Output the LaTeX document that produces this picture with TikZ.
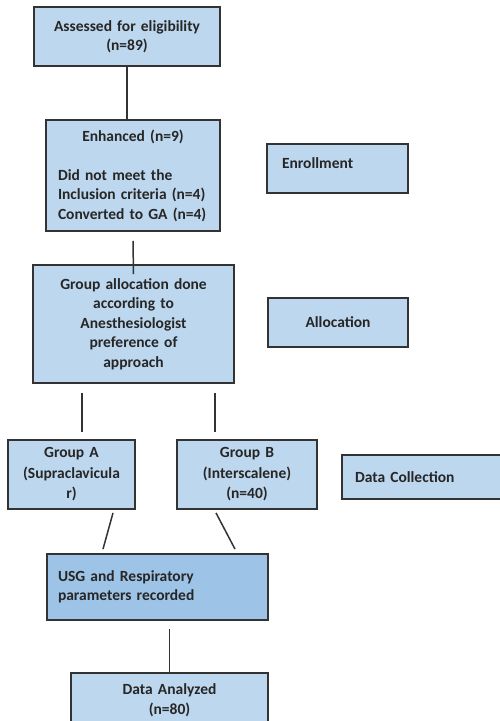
\documentclass[tikz,border=0pt]{standalone}
\usepackage{fontspec}
\setmainfont{Carlito}
\definecolor{boxblue}{HTML}{BDD7EE}
\definecolor{darkboxblue}{HTML}{9DC3E6}
\definecolor{edgegray}{HTML}{333333}
\tikzset {
  % flow chart boxes
  plainbox/.style = {draw=edgegray, line width=1.8pt, fill=boxblue, text=black!85,
    font=\bfseries\fontsize{15.5}{19.5}\selectfont, inner sep=0pt},
  box/.style = {plainbox, align=center},
  % boxes with text set from the left
  leftbox/.style = {plainbox, align=left},
  % plain connecting lines
  link/.style = {edgegray, line width=1.5pt},
}

\begin{document}
\begin{tikzpicture}[x=1pt, y=-1pt]
        \useasboundingbox (0,0) rectangle (499,721);

        \node[box, minimum width=186, minimum height=59, text width=170] (assess) at (127,36.5)
          {Assessed for eligibility\\(n=89)};
        \node[plainbox, minimum height=111, text width=150, inner xsep=12pt] (enh) at (133,175.5)
          {\centering Enhanced (n=9)\par\vspace{19.5pt}\raggedright Did not meet the\\Inclusion criteria (n=4)\\Converted to GA (n=4)\par};
        \node[leftbox, minimum height=49, text width=111, inner xsep=15pt, text height=11pt, text depth=12pt] (enrol) at (337.5,168.5)
          {Enrollment};
        \node[box, minimum width=201, minimum height=118, text width=185] (alloc) at (133.5,324)
          {Group allocation done\\according to\\Anesthesiologist\\preference of\\approach};
        \node[box, minimum width=140, minimum height=49, text width=130] (allocation) at (338,322.5)
          {Allocation};
        \node[box, minimum width=127, minimum height=69, text width=120,
          font=\bfseries\fontsize{15.5}{20.5}\selectfont] (grpA) at (71.5,474.5)
          {Group A\\(Supraclavicula\\r)};
        \node[box, minimum width=140, minimum height=69, text width=130,
          font=\bfseries\fontsize{15.5}{20.5}\selectfont] (grpB) at (247,474.5)
          {Group B\\(Interscalene)\\(n=40)};
        \node[leftbox, minimum height=44, text width=144, inner xsep=13pt] (dcoll) at (427,477)
          {Data Collection};
        \node[leftbox, fill=darkboxblue, minimum height=66, text width=199, inner xsep=11pt] (usg) at (157.5,587)
          {USG and Respiratory\\parameters recorded};
        \node[box, minimum width=197, minimum height=54, text width=180] (anal) at (169.5,700)
          {Data Analyzed\\(n=80)};

        \coordinate (splitA) at (82,393);
        \coordinate (splitB) at (215,393);

        \draw [link] (assess.south) -- (assess.south |- enh.north);
        \draw [link] ([yshift=-9pt]enh.south) -- ([yshift=-10pt]alloc.north);
        \draw [link] (splitA) -- ++(0,39);
        \draw [link] (splitB) -- ++(0,39);
        \draw [link] ([xshift=41.5pt, yshift=-3pt]grpA.south) -- ([xshift=-54.5pt, yshift=4pt]usg.north);
        \draw [link] ([xshift=-31pt, yshift=-3pt]grpB.south) -- ([xshift=77.5pt, yshift=4pt]usg.north);
        \draw [link] ([xshift=12pt, yshift=-8pt]usg.south) -- (anal.north);
      \end{tikzpicture}
\end{document}
